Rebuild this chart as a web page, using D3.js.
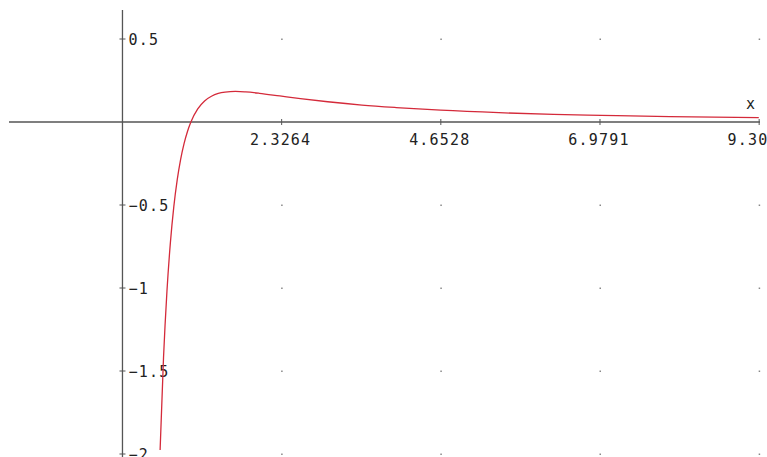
<!DOCTYPE html>
<html>
<head>
<meta charset="utf-8">
<script src="https://cdn.jsdelivr.net/npm/d3@7"></script>
<style>
  body { margin: 0; background: #fff; }
  svg { display: block; }
  text { font-family: "DejaVu Sans Mono", monospace; font-size: 15px; fill: #222; letter-spacing: 1.2px; }
</style>
</head>
<body>
<svg width="767" height="457"></svg>
<script>
// curve points
var xs = [0.55, 0.6, 0.65, 0.7, 0.75, 0.8, 0.85, 0.9, 0.95, 1.0, 1.1, 1.2, 1.3, 1.4, 1.5, 1.65, 1.8, 2.0, 2.3, 2.6, 3.0, 3.5, 4.0, 4.65, 5.5, 6.3, 7.0, 8.0, 9.3];
var ys = [-1.976, -1.419, -1.020, -0.728, -0.511, -0.349, -0.225, -0.130, -0.057, 0, 0.079, 0.127, 0.155, 0.172, 0.180, 0.184, 0.181, 0.173, 0.157, 0.141, 0.122, 0.102, 0.087, 0.071, 0.056, 0.046, 0.040, 0.032, 0.026];

var xTicks = [2.3264, 4.6528, 6.9791, 9.3055];
var xTickLabels = ["2.3264", "4.6528", "6.9791", "9.3055"];
var yTicks = [0.5, -0.5, -1, -1.5, -2];
var yTickLabels = ["0.5", "\u22120.5", "\u22121", "\u22121.5", "\u22122"];

var svg = d3.select("svg"),
  width = +svg.attr("width"),
  height = +svg.attr("height");

var x = d3.scaleLinear().domain([-1.79, 9.42]).range([0, width]);
var y = d3.scaleLinear().domain([0.735, -2.018]).range([0, height]);

var axisColor = "#555";

// grid dots
var dots = [];
xTicks.forEach(function (tx) {
  yTicks.forEach(function (ty) { dots.push([tx, ty]); });
});
svg.append("g")
  .selectAll("rect")
  .data(dots)
  .enter()
  .append("rect")
  .attr("x", function (d) { return x(d[0]) - 0.5; })
  .attr("y", function (d) { return y(d[1]) - 0.5; })
  .attr("width", 1.5)
  .attr("height", 1.5)
  .attr("fill", "#888");

// axes
svg.append("line")
  .attr("x1", 9).attr("x2", 760)
  .attr("y1", y(0)).attr("y2", y(0))
  .attr("stroke", axisColor).attr("stroke-width", 1.3);
svg.append("line")
  .attr("x1", x(0)).attr("x2", x(0))
  .attr("y1", 10).attr("y2", height)
  .attr("stroke", axisColor).attr("stroke-width", 1.3);

// x ticks + labels
var xt = svg.append("g").selectAll("g").data(xTicks).enter().append("g");
xt.append("line")
  .attr("x1", function (d) { return x(d); })
  .attr("x2", function (d) { return x(d); })
  .attr("y1", y(0) - 3).attr("y2", y(0) + 3)
  .attr("stroke", axisColor);
xt.append("text")
  .attr("x", function (d) { return x(d) - 1; })
  .attr("y", y(0) + 23)
  .attr("text-anchor", "middle")
  .text(function (d, i) { return xTickLabels[i]; });

// y ticks + labels
var yt = svg.append("g").selectAll("g").data(yTicks).enter().append("g");
yt.append("line")
  .attr("x1", x(0) - 3).attr("x2", x(0) + 3)
  .attr("y1", function (d) { return y(d); })
  .attr("y2", function (d) { return y(d); })
  .attr("stroke", axisColor);
yt.append("text")
  .attr("x", x(0) + 6)
  .attr("y", function (d) { return y(d) + 5.5; })
  .text(function (d, i) { return yTickLabels[i]; });

svg.append("text")
  .attr("x", 746)
  .attr("y", 109)
  .text("x");

// curve
var pts = xs.map(function (d, i) { return [d, ys[i]]; });
var line = d3.line()
  .x(function (d) { return x(d[0]); })
  .y(function (d) { return y(d[1]); })
  .curve(d3.curveMonotoneX);

svg.append("path")
  .datum(pts)
  .attr("d", line)
  .attr("fill", "none")
  .attr("stroke", "#d42a3a")
  .attr("stroke-width", 1.3);
</script>
</body>
</html>
